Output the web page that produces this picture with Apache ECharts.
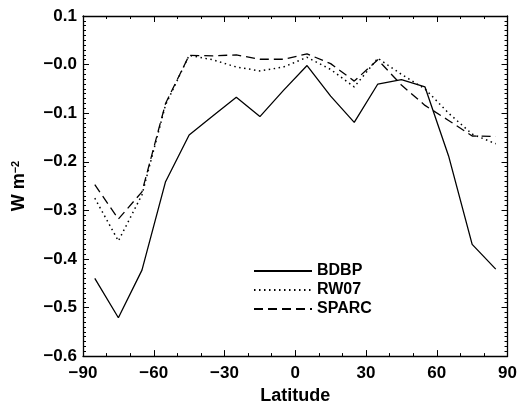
<!DOCTYPE html>
<html><head><meta charset="utf-8">
<script src="https://cdn.jsdelivr.net/npm/echarts@6/dist/echarts.min.js"></script>
<style>html,body{margin:0;padding:0;background:#fff;overflow:hidden}#c{width:520px;height:410px}</style>
</head><body><div id="c"></div>
<script>
const latitudes = [-85,-75,-65,-55,-45,-35,-25,-15,-5,5,15,25,35,45,55,65,75,85];
const bdbp  = [-0.440,-0.521,-0.423,-0.241,-0.145,-0.106,-0.067,-0.107,-0.053,-0.002,-0.065,-0.119,-0.040,-0.031,-0.046,-0.188,-0.370,-0.421];
const rw07  = [-0.275,-0.363,-0.268,-0.083,0.019,0.010,-0.005,-0.013,-0.005,0.015,-0.010,-0.046,0.013,-0.020,-0.050,-0.100,-0.143,-0.163];
const sparc = [-0.247,-0.318,-0.262,-0.080,0.019,0.018,0.020,0.011,0.011,0.022,0.002,-0.034,0.010,-0.042,-0.084,-0.115,-0.147,-0.148];
const seriesNames = ['BDBP','RW07','SPARC'];
const xTicks = [-90,-60,-30,0,30,60,90];
const yTicks = [-0.6,-0.5,-0.4,-0.3,-0.2,-0.1,0.0,0.1];

const FONT = 'Liberation Sans, Arial, Helvetica, sans-serif';
const fmtY = v => { const r = Math.round(v*10)/10; return (r <= 0 ? '\u2212' : '') + Math.abs(r).toFixed(1); };
const fmtX = v => (v < 0 ? '\u2212' : '') + Math.abs(v);
const tick = {color:'#000', fontFamily:FONT, fontWeight:'bold', fontSize:17};
const title = {color:'#000', fontFamily:FONT, fontWeight:'bold', fontSize:18};
const leg = {color:'#000', fontFamily:FONT, fontWeight:'bold', fontSize:16};
const pair = arr => latitudes.map((x,i)=>[x,arr[i]]);

const baseX = {type:'value', min:xTicks[0], max:xTicks[xTicks.length-1], interval:30,
  axisLine:{show:true,onZero:false,lineStyle:{color:'#000',width:1.3}},
  axisTick:{show:true,inside:true,length:6,lineStyle:{color:'#000',width:1}},
  minorTick:{show:true,splitNumber:3,length:3,lineStyle:{color:'#000',width:1}},
  splitLine:{show:false}};
const baseY = {type:'value', min:yTicks[0], max:yTicks[yTicks.length-1], interval:0.1,
  axisLine:{show:true,onZero:false,lineStyle:{color:'#000',width:1.3}},
  axisTick:{show:true,inside:true,length:6,lineStyle:{color:'#000',width:1}},
  minorTick:{show:true,splitNumber:10,length:3,lineStyle:{color:'#000',width:1}},
  splitLine:{show:false}};

const chart = echarts.init(document.getElementById('c'), null, {renderer:'canvas'});
chart.setOption({
  animation:false,
  backgroundColor:'#fff',
  grid:{left:83,right:9,top:16,bottom:44,containLabel:false},
  xAxis:[
    Object.assign({}, baseX, {position:'bottom', name:'Latitude', nameLocation:'middle', nameGap:27,
      nameTextStyle:title, axisLabel:Object.assign({margin:9, formatter:fmtX}, tick)}),
    Object.assign({}, baseX, {position:'top', axisLabel:{show:false}})
  ],
  yAxis:[
    Object.assign({}, baseY, {position:'left', name:'W m{sup|\u22122}', nameLocation:'middle', nameGap:54,
      nameTextStyle:Object.assign({}, title, {rich:{sup:{fontFamily:FONT,fontWeight:'bold',fontSize:11,color:'#000',verticalAlign:'top',padding:[0,0,8,0]}}}),
      axisLabel:Object.assign({margin:6, formatter:fmtY}, tick)}),
    Object.assign({}, baseY, {position:'right', axisLabel:{show:false}})
  ],
  legend:{show:true, orient:'vertical', left:253, top:263, padding:0, itemWidth:58, itemHeight:14, itemGap:3,
    textStyle:leg, data:seriesNames, selectedMode:false, itemStyle:{opacity:0}},
  series:[
    {name:seriesNames[0], type:'line', data:pair(bdbp), symbol:'none', color:'#000',
      lineStyle:{color:'#000', width:1.3, type:'solid'}},
    {name:seriesNames[1], type:'line', data:pair(rw07), symbol:'none', color:'#000',
      lineStyle:{color:'#000', width:1.5, type:[1.5,3.5]}},
    {name:seriesNames[2], type:'line', data:pair(sparc), symbol:'none', color:'#000',
      lineStyle:{color:'#000', width:1.3, type:[9,5]}}
  ]
});
</script></body></html>
